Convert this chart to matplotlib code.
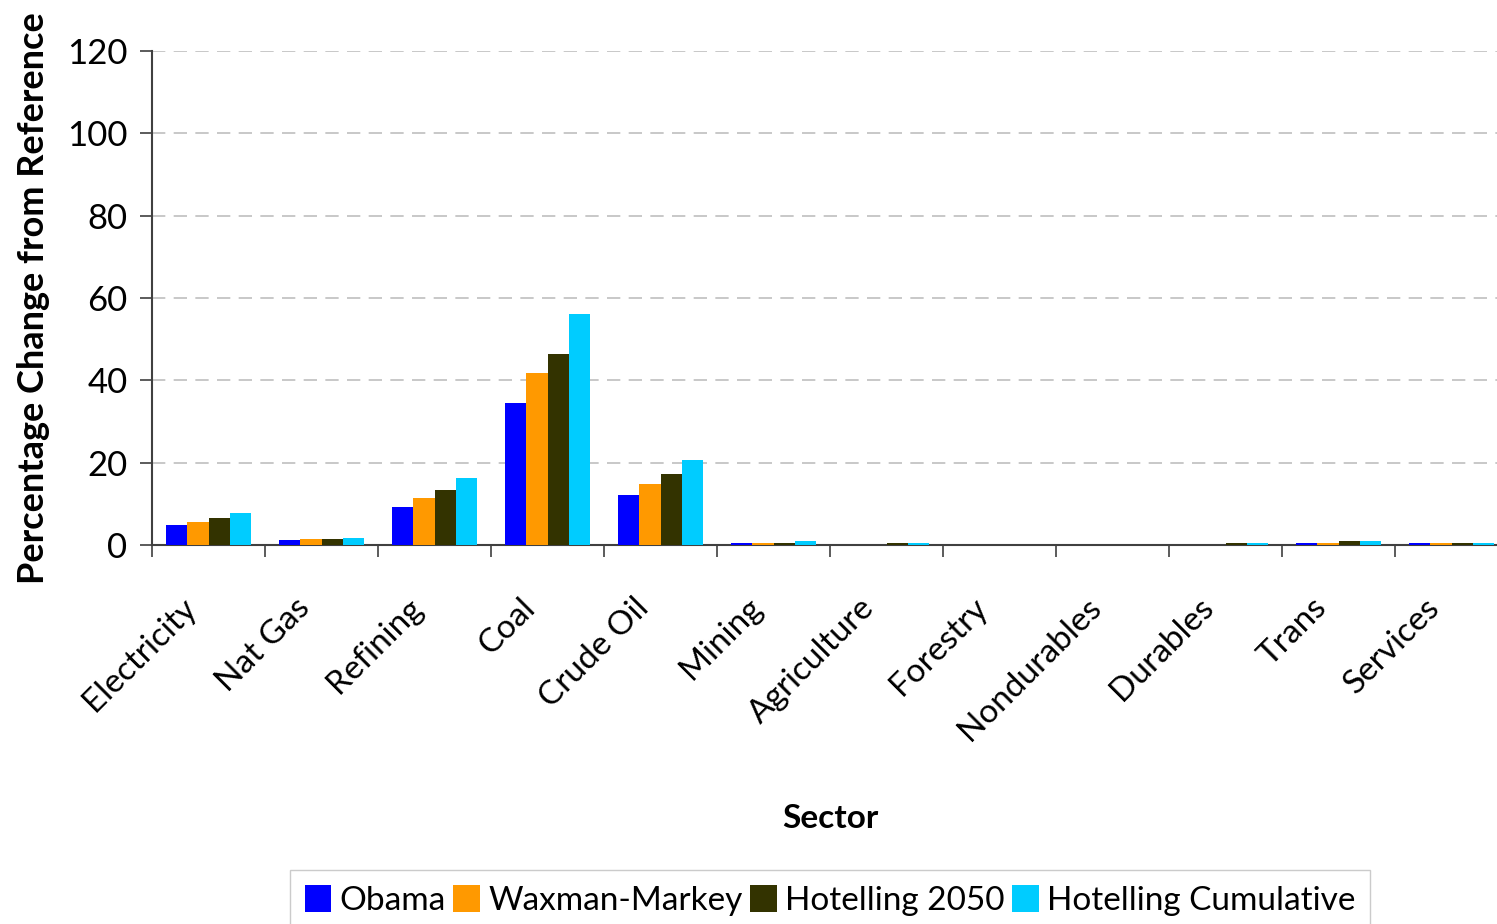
import numpy as np
import matplotlib
matplotlib.use("Agg")
import matplotlib.pyplot as plt

plt.rcParams["font.family"] = ["Lato", "DejaVu Sans"]

sectors = ["Electricity", "Nat Gas", "Refining", "Coal", "Crude Oil", "Mining",
           "Agriculture", "Forestry", "Nondurables", "Durables", "Trans", "Services"]
series = ["Obama", "Waxman-Markey", "Hotelling 2050", "Hotelling Cumulative"]
obama = [4.75, 1.1, 9.3, 34.5, 12.1, 0.6, 0.0, 0.0, 0.0, 0.0, 0.6, 0.6]
waxman = [5.7, 1.4, 11.4, 41.9, 14.9, 0.6, 0.0, 0.0, 0.0, 0.0, 0.6, 0.6]
hot2050 = [6.5, 1.4, 13.3, 46.5, 17.3, 0.6, 0.6, 0.0, 0.0, 0.6, 1.0, 0.6]
hotcum = [7.8, 1.6, 16.3, 56.0, 20.7, 1.0, 0.6, 0.0, 0.0, 0.6, 1.0, 0.6]
colors = ["#0000ff", "#ff9900", "#333300", "#00ccff"]

fig = plt.figure(figsize=(14.97, 9.24), dpi=100)
ax = fig.add_axes([152 / 1497, 1 - 545 / 924, 1356 / 1497, 494 / 924])

x = np.arange(len(sectors))
w = 0.1875
for k, (name, vals) in enumerate(zip(series, [obama, waxman, hot2050, hotcum])):
    ax.bar(x + (k - 1.5) * w, vals, width=w, color=colors[k], label=name, zorder=3)

ax.set_xlim(-0.5, len(sectors) - 0.5)
ax.set_ylim(0, 120)
ax.set_yticks(range(0, 121, 20))
ax.set_xticks(np.arange(-0.5, len(sectors), 1.0))
ax.set_xticklabels([])
# rotated labels sit a bit left of the category centre
ax.set_xticks(x - 0.24, minor=True)
ax.set_xticklabels(sectors, minor=True, rotation=45, ha="right",
                   rotation_mode="anchor", fontsize=24)
ax.tick_params(axis="x", which="major", direction="out", length=8.6, width=1.2, color="#404040")
ax.tick_params(axis="x", which="minor", length=0, pad=34)
ax.tick_params(axis="y", direction="out", length=8.6, width=1.2, pad=9,
               labelsize=25, color="#404040")

ax.yaxis.grid(True, color="#bfbfbf", linestyle=(0, (8, 5)), linewidth=1.2, zorder=0)
for s in ["top", "right"]:
    ax.spines[s].set_visible(False)
for s in ["left", "bottom"]:
    ax.spines[s].set_color("#404040")
    ax.spines[s].set_linewidth(1.5)

ax.set_ylabel("Percentage Change from Reference", fontsize=26, fontweight="bold", labelpad=12)
ax.set_xlabel("Sector", fontsize=24, fontweight="bold")
ax.xaxis.set_label_coords(0.5, -0.525)

leg = ax.legend(loc="upper center", bbox_to_anchor=(0.5, -0.658), ncol=4, fontsize=24,
                frameon=True, fancybox=False, edgecolor="#bfbfbf", handlelength=0.8,
                handleheight=0.85, handletextpad=0.25, columnspacing=0.22, borderpad=0.45,
                borderaxespad=0)

fig.savefig("out.png", dpi=100)
